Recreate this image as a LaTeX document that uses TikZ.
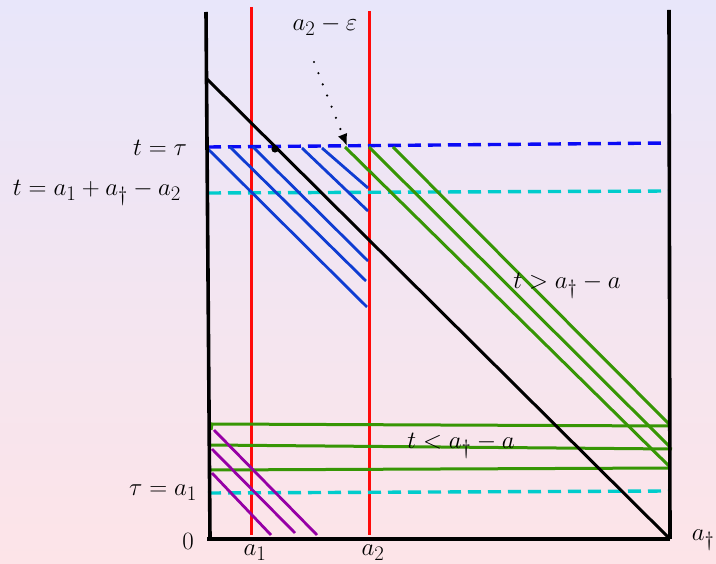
\documentclass[tikz,border=0pt]{standalone}
\usetikzlibrary{arrows.meta}
\definecolor{bgtop}{RGB}{232,230,250}
\definecolor{bgbot}{RGB}{253,228,232}
\definecolor{dblue}{RGB}{10,10,245}
\definecolor{hblue}{RGB}{15,60,210}
\definecolor{hgreen}{RGB}{55,150,5}
\definecolor{hcyan}{RGB}{0,204,204}
\definecolor{hpurple}{RGB}{150,0,165}
\definecolor{hred}{RGB}{255,10,10}
\begin{document}
\begin{tikzpicture}[x=1pt,y=-1pt,font=\fontsize{24.88}{30}\selectfont,
  axisline/.style={black,line width=3.6pt},
  redline/.style={hred,line width=3pt},
  bluehatch/.style={hblue,line width=2.8pt},
  greenline/.style={hgreen,line width=3pt},
  purpleline/.style={hpurple,line width=2.8pt},
  tdash/.style={line width=3.4pt,dash pattern=on 13pt off 7pt},
  lbl/.style={inner sep=0pt}]
\useasboundingbox (0,0) rectangle (716,564);
\shade[top color=bgtop,bottom color=bgbot] (0,0) rectangle (716,564);
% coordinates
\coordinate (LT) at (206,12);
\coordinate (LB) at (210,538);
\coordinate (RT) at (669,10);
\coordinate (RB) at (670,539);
\coordinate (BL) at (207,539);
\coordinate (DG) at (206,78);
% red verticals
\draw[redline] (251,7) -- (251,535);
\draw[redline] (369,11) -- (369,535);
% dashed horizontals
\draw[tdash,dblue] (208,147) -- (669,143);
\draw[tdash,hcyan] (208,193) -- (669,191);
\draw[tdash,hcyan] (208,493) -- (669,491);
% blue hatching
\draw[bluehatch] (208,149) -- (367,307);
\draw[bluehatch] (230,147) -- (366,281);
\draw[bluehatch] (253,147) -- (368,261);
\draw[bluehatch] (302,148) -- (368,211);
\draw[bluehatch] (322,148) -- (368,188);
% green diagonals
\draw[greenline] (345,147) -- (669,466);
\draw[greenline] (369,147) -- (669,446);
\draw[greenline] (393,147) -- (669,424);
% green horizontals
\draw[greenline] (211,430) -- (212,424) -- (669,426);
\draw[greenline] (209,445) -- (672,449);
\draw[greenline] (211,470) -- (670,468);
% purple hatching
\draw[purpleline] (214,430) -- (317,535);
\draw[purpleline] (212,449) -- (295,533);
\draw[purpleline] (212,473) -- (271,535);
% black frame and diagonal
\draw[axisline] (LT) -- (LB);
\draw[axisline] (RT) -- (RB);
\draw[axisline] (BL) -- (RB);
\draw[black,line width=3pt] (DG) -- (RB);
% dot
\fill[black] (275,149) circle (3.6pt);
% dotted arrow
\coordinate (arrS) at (314,62);
\coordinate (arrE) at (347,146);
\draw[black,line width=2.4pt,line cap=round,dash pattern=on 0pt off 12pt,-{Latex[length=12pt,width=10pt]}] (arrS) -- (arrE);
% labels
\node[lbl] (eps) at (325,26) {$a_2-\varepsilon$};
\node[lbl] (ttau) at (160,148) {$t=\tau$};
\node[lbl] (tval) at (97,193) {$t=a_1+a_\dagger-a_2$};
\node[lbl] (taua) at (163,493) {$\tau=a_1$};
\node[lbl] (zero) at (188,541) {$0$};
\node[lbl] (xa1) at (255,553) {$a_1$};
\node[lbl] (xa2) at (373,553) {$a_2$};
\node[lbl] (xad) at (703,540) {$a_\dagger$};
\node[lbl] (tgt) at (567,286) {$t>a_\dagger-a$};
\node[lbl] (tlt) at (461,446) {$t<a_\dagger-a$};
\end{tikzpicture}
\end{document}
